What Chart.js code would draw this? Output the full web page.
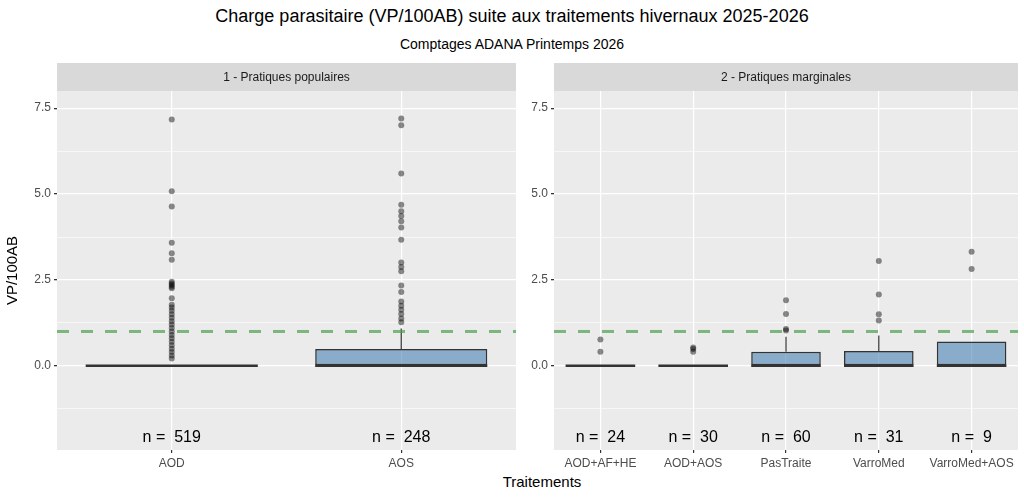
<!DOCTYPE html>
<html><head><meta charset="utf-8">
<script src="https://cdn.jsdelivr.net/npm/chart.js@4"></script>
<style>
body{margin:0;width:1024px;height:501px;background:#fff;position:relative;font-family:"Liberation Sans",Arial,sans-serif;overflow:hidden}
canvas{position:absolute;top:0}
.t{position:absolute;left:0;width:1024px;text-align:center;color:#000}
</style></head><body>
<div class="t" style="top:6px;font-size:18px">Charge parasitaire (VP/100AB) suite aux traitements hivernaux 2025-2026</div>
<div class="t" style="top:36px;font-size:14px">Comptages ADANA Printemps 2026</div>
<div class="t" style="top:473px;font-size:15px;left:30px">Traitements</div>
<div style="position:absolute;left:0;top:0;width:520px;height:501px"><canvas id="c1"></canvas></div>
<div style="position:absolute;left:520px;top:0;width:504px;height:501px"><canvas id="c2"></canvas></div>
<script>
// panel 1
const cats1 = ['AOD', 'AOS'];
const q1_1 = [0, 0];
const med1 = [0, 0];
const q3_1 = [0, 0.49];
const whiskTop1 = [0, 1.09];
const n1 = [519, 248];
const out1 = [
  [7.17, 5.08, 4.64, 3.58, 3.28, 3.09, 2.45, 2.4, 2.35, 2.3, 2.26, 1.97, 1.78, 1.7, 1.6, 1.5, 1.4, 1.3, 1.2, 1.1, 1.0, 0.9, 0.8, 0.7, 0.6, 0.5, 0.4, 0.3, 0.21],
  [7.2, 7.0, 5.6, 4.69, 4.5, 4.36, 4.21, 4.03, 3.67, 3.01, 2.88, 2.75, 2.34, 2.15, 1.87, 1.75, 1.63, 1.51, 1.38, 1.27]
];
// panel 2
const cats2 = ['AOD+AF+HE', 'AOD+AOS', 'PasTraite', 'VarroMed', 'VarroMed+AOS'];
const q1_2 = [0, 0, 0, 0, 0];
const med2 = [0, 0, 0, 0, 0];
const q3_2 = [0, 0, 0.41, 0.43, 0.71];
const whiskTop2 = [0, 0, 0.85, 0.88, 0.71];
const n2 = [24, 30, 60, 31, 9];
const out2 = [
  [0.77, 0.41],
  [0.53, 0.49, 0.41],
  [1.91, 1.51, 1.07, 1.03],
  [3.05, 2.08, 1.5, 1.32],
  [3.32, 2.82]
];
const seuil = 1.0;

const boxPlugin = {
  id: 'boxExtras',
  beforeDraw(chart) {
    const {ctx, chartArea: a} = chart;
    ctx.save();
    ctx.fillStyle = '#EBEBEB';
    ctx.fillRect(a.left, a.top, a.right - a.left, a.bottom - a.top);
    ctx.fillStyle = '#D9D9D9';
    ctx.fillRect(a.left, 63, a.right - a.left, a.top - 63);
    ctx.fillStyle = '#1A1A1A';
    ctx.font = '12px "Liberation Sans", Arial';
    ctx.textAlign = 'center'; ctx.textBaseline = 'middle';
    ctx.fillText(chart.options.plugins.boxExtras.strip, (a.left + a.right) / 2, (63 + a.top) / 2 + 1);
    ctx.restore();
  },
  afterDatasetsDraw(chart) {
    const o = chart.options.plugins.boxExtras;
    const {ctx} = chart;
    const x = chart.scales.x, y = chart.scales.y;
    const bars = chart.getDatasetMeta(0).data;
    ctx.save();
    ctx.strokeStyle = '#333'; ctx.lineWidth = 1.5;
    o.med.forEach((m, i) => {
      const b = bars[i], cx = x.getPixelForValue(i);
      ctx.beginPath();
      ctx.moveTo(b.x - b.width / 2, y.getPixelForValue(m));
      ctx.lineTo(b.x + b.width / 2, y.getPixelForValue(m));
      ctx.lineWidth = 2.5; ctx.stroke();
      if (o.wt[i] > o.q3[i]) {
        ctx.beginPath(); ctx.lineWidth = 1.2;
        ctx.moveTo(cx, y.getPixelForValue(o.q3[i]));
        ctx.lineTo(cx, y.getPixelForValue(o.wt[i]));
        ctx.stroke();
      }
    });
    // threshold
    ctx.strokeStyle = 'rgba(77,160,77,0.7)'; ctx.lineWidth = 3; ctx.setLineDash([12, 12]);
    ctx.beginPath();
    ctx.moveTo(chart.chartArea.left, y.getPixelForValue(seuil));
    ctx.lineTo(chart.chartArea.right, y.getPixelForValue(seuil));
    ctx.stroke(); ctx.setLineDash([]);
    ctx.fillStyle = '#000'; ctx.font = '16px "Liberation Sans", Arial';
    ctx.textAlign = 'center'; ctx.textBaseline = 'middle';
    o.n.forEach((v, i) => ctx.fillText('n =  ' + v, x.getPixelForValue(i), y.getPixelForValue(-2.08)));
    ctx.restore();
  }
};

function makeChart(id, cats, q1, q3, med, wt, outs, n, strip, showTitle, yw, padR) {
  const pts = [];
  outs.forEach((arr, i) => arr.forEach(v => pts.push({x: cats[i], y: v})));
  return new Chart(document.getElementById(id), {
    type: 'bar',
    data: {
      labels: cats,
      datasets: [{
        data: q1.map((v, i) => [v, q3[i]]),
        backgroundColor: 'rgba(70,130,180,0.6)',
        borderColor: '#333', borderWidth: 1.5, borderSkipped: false,
        barPercentage: 0.75, categoryPercentage: 1
      }, {
        type: 'line', data: pts, showLine: false,
        pointRadius: 3, pointBackgroundColor: 'rgba(0,0,0,0.45)', pointBorderWidth: 0
      }]
    },
    options: {
      responsive: true, maintainAspectRatio: false, animation: false,
      layout: {padding: {top: 91, right: padR, left: 0, bottom: 0}},
      plugins: {legend: {display: false}, tooltip: {enabled: false},
        boxExtras: {strip, med, q3, wt, n}},
      scales: {
        x: {
          grid: {color: '#fff', lineWidth: 1.2, offset: false, tickColor: '#333', tickLength: 3},
          border: {display: false},
          ticks: {color: '#4D4D4D', font: {size: 12, family: '"Liberation Sans", Arial'}, padding: 3},
          afterFit(s) { s.height = 51; }
        },
        y: {
          min: -2.45, max: 8.0,
          afterBuildTicks(s) { s.ticks = [-1.25, 0, 1.25, 2.5, 3.75, 5, 6.25, 7.5].map(v => ({value: v})); },
          grid: {
            color: '#fff',
            lineWidth: c => (c.tick && Math.abs(c.tick.value % 2.5) < 1e-6) ? 1.3 : 0.6,
            tickColor: c => (c.tick && Math.abs(c.tick.value % 2.5) < 1e-6) ? '#333' : 'rgba(0,0,0,0)',
            tickLength: 3
          },
          border: {display: false},
          ticks: {
            color: '#4D4D4D', font: {size: 12, family: '"Liberation Sans", Arial'}, padding: 3,
            callback: v => (Math.abs(v % 2.5) < 1e-6 && v >= 0) ? v.toFixed(1) : ''
          },
          title: {display: showTitle, text: 'VP/100AB', color: '#000', font: {size: 15, family: '"Liberation Sans", Arial'}},
          afterFit(s) { s.width = yw; }
        }
      }
    },
    plugins: [boxPlugin]
  });
}
makeChart('c1', cats1, q1_1, q3_1, med1, whiskTop1, out1, n1, '1 - Pratiques populaires', true, 57, 2);
makeChart('c2', cats2, q1_2, q3_2, med2, whiskTop2, out2, n2, '2 - Pratiques marginales', false, 34, 6);
</script>
</body></html>
